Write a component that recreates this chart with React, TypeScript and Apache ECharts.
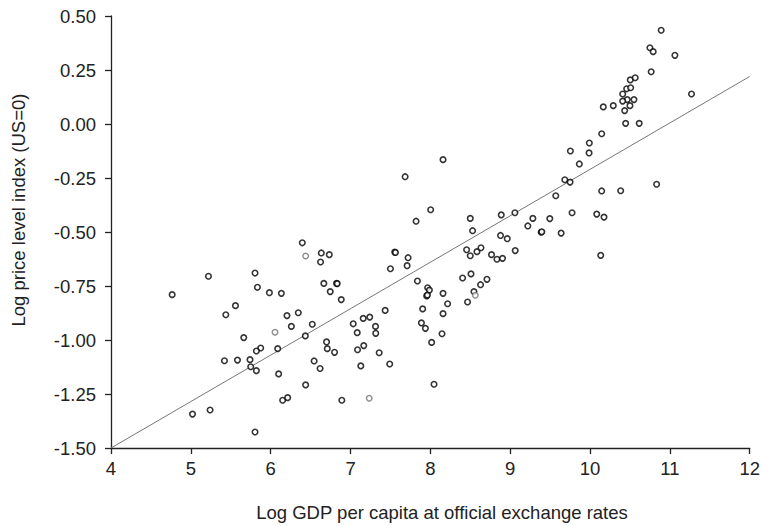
import React, { useEffect, useRef } from "react";
import * as echarts from "echarts";

// Log GDP per capita (x) vs log price level index, US = 0 (y)
const darkPoints: [number, number][] = [
  [6.396, -0.55], [5.221, -0.705], [5.804, -0.69], [4.766, -0.79], [5.834, -0.756],
  [5.984, -0.781], [6.134, -0.784], [5.559, -0.841], [5.438, -0.883], [6.204, -0.887],
  [6.346, -0.874], [6.259, -0.937], [6.521, -0.927], [6.434, -0.981], [5.663, -0.989],
  [5.875, -1.037], [5.821, -1.051], [6.088, -1.04], [5.421, -1.096], [5.584, -1.093],
  [5.741, -1.091], [5.75, -1.124], [5.821, -1.142], [6.544, -1.097], [6.619, -1.132],
  [6.1, -1.157], [6.438, -1.208], [6.15, -1.279], [6.213, -1.267], [5.021, -1.343],
  [5.241, -1.324], [5.804, -1.426],
  [8.159, -0.165], [7.684, -0.244], [8.004, -0.397], [7.821, -0.45], [8.5, -0.437],
  [8.888, -0.421], [9.059, -0.411], [8.529, -0.494], [8.879, -0.516], [8.963, -0.531],
  [9.063, -0.586], [8.454, -0.582], [8.5, -0.61], [8.584, -0.591], [8.634, -0.573],
  [8.766, -0.605], [8.834, -0.626], [8.904, -0.622], [6.634, -0.597], [6.734, -0.605],
  [6.625, -0.639], [7.554, -0.593], [7.563, -0.595], [7.721, -0.619], [7.709, -0.656],
  [7.5, -0.67], [6.666, -0.738], [6.825, -0.738], [6.834, -0.739], [6.746, -0.776],
  [6.884, -0.813], [7.838, -0.727], [7.966, -0.758], [7.988, -0.769], [7.954, -0.796],
  [7.963, -0.792], [8.159, -0.784], [8.216, -0.832], [7.904, -0.856], [8.159, -0.878],
  [8.404, -0.713], [8.509, -0.694], [8.629, -0.744], [8.709, -0.719], [8.546, -0.776],
  [8.466, -0.824], [7.888, -0.921], [7.938, -0.946], [8.146, -0.971], [8.016, -1.011],
  [8.046, -1.205], [7.434, -0.863], [7.034, -0.925], [7.159, -0.9], [7.241, -0.894],
  [7.313, -0.937], [7.084, -0.966], [7.316, -0.969], [6.7, -1.009], [6.709, -1.04],
  [6.8, -1.057], [7.088, -1.045], [7.166, -1.026], [7.359, -1.059], [7.129, -1.12],
  [7.491, -1.111], [6.891, -1.279],
  [10.891, 0.434], [10.75, 0.353], [10.791, 0.335], [11.063, 0.318], [10.766, 0.242],
  [10.504, 0.204], [10.566, 0.214], [10.459, 0.163], [10.509, 0.168], [10.409, 0.139],
  [11.271, 0.139], [10.466, 0.113], [10.409, 0.106], [10.55, 0.113], [10.5, 0.085],
  [10.434, 0.062], [10.166, 0.079], [10.291, 0.085], [10.446, 0.003], [10.616, 0.003],
  [10.146, -0.045], [9.991, -0.088], [9.988, -0.134], [9.754, -0.125], [9.866, -0.185],
  [9.684, -0.258], [9.75, -0.269], [9.571, -0.332], [10.146, -0.31], [10.384, -0.309],
  [10.834, -0.279], [9.284, -0.437], [9.221, -0.472], [9.496, -0.438], [9.388, -0.501],
  [9.396, -0.499], [9.638, -0.505], [9.775, -0.411], [10.084, -0.417], [10.175, -0.431],
  [10.134, -0.608],
];

const lightPoints: [number, number][] = [
  [6.438, -0.611], [6.054, -0.964], [8.563, -0.793], [7.234, -1.27],
];

const fitLine: [number, number][] = [
  [4, -1.5], [12, 0.22],
];

const xTitle = "Log GDP per capita at official exchange rates";
const yTitle = "Log price level index (US=0)";

const FONT = "'Liberation Sans', Arial, Helvetica, sans-serif";

export default function App() {
  const ref = useRef<HTMLDivElement>(null);

  useEffect(() => {
    if (!ref.current) return;
    const chart = echarts.init(ref.current, undefined, { renderer: "svg" });
    const axisLine = { show: true, onZero: false, lineStyle: { color: "#222", width: 1.3 } };
    const axisTick = { show: true, inside: false, length: 6, lineStyle: { color: "#222", width: 1.3 } };
    chart.setOption({
      animation: false,
      backgroundColor: "#fff",
      grid: { left: 111, right: 12, top: 16, bottom: 78, containLabel: false },
      xAxis: {
        type: "value",
        min: 4,
        max: 12,
        interval: 1,
        axisLine,
        axisTick,
        splitLine: { show: false },
        axisLabel: { color: "#222", fontSize: 18.5, fontFamily: FONT, margin: 11 },
      },
      yAxis: {
        type: "value",
        min: -1.5,
        max: 0.5,
        interval: 0.25,
        axisLine,
        axisTick,
        splitLine: { show: false },
        axisLabel: {
          color: "#222",
          fontSize: 18.5,
          fontFamily: FONT,
          margin: 15,
          formatter: (v: number) => v.toFixed(2),
        },
      },
      graphic: [
        {
          type: "text",
          x: 442,
          y: 512,
          style: {
            text: xTitle,
            fill: "#222",
            font: `18.5px ${FONT}`,
            textAlign: "center",
            textVerticalAlign: "middle",
          },
        },
        {
          type: "text",
          x: 18,
          y: 210,
          rotation: Math.PI / 2,
          style: {
            text: yTitle,
            fill: "#222",
            font: `18.5px ${FONT}`,
            textAlign: "center",
            textVerticalAlign: "middle",
          },
        },
      ],
      series: [
        {
          type: "line",
          data: fitLine,
          showSymbol: false,
          symbol: "none",
          lineStyle: { color: "#777", width: 1 },
          z: 1,
          silent: true,
        },
        {
          type: "scatter",
          data: darkPoints,
          symbol: "circle",
          symbolSize: 5.5,
          itemStyle: { color: "#fff", borderColor: "#000", borderWidth: 1.6 },
          z: 3,
        },
        {
          type: "scatter",
          data: lightPoints,
          symbol: "circle",
          symbolSize: 5.5,
          itemStyle: { color: "#fff", borderColor: "#777", borderWidth: 1.5 },
          z: 3,
        },
      ],
    });
    return () => chart.dispose();
  }, []);

  return (
    <div
      ref={ref}
      style={{ position: "absolute", left: 0, top: 0, width: 763, height: 526 }}
    />
  );
}
